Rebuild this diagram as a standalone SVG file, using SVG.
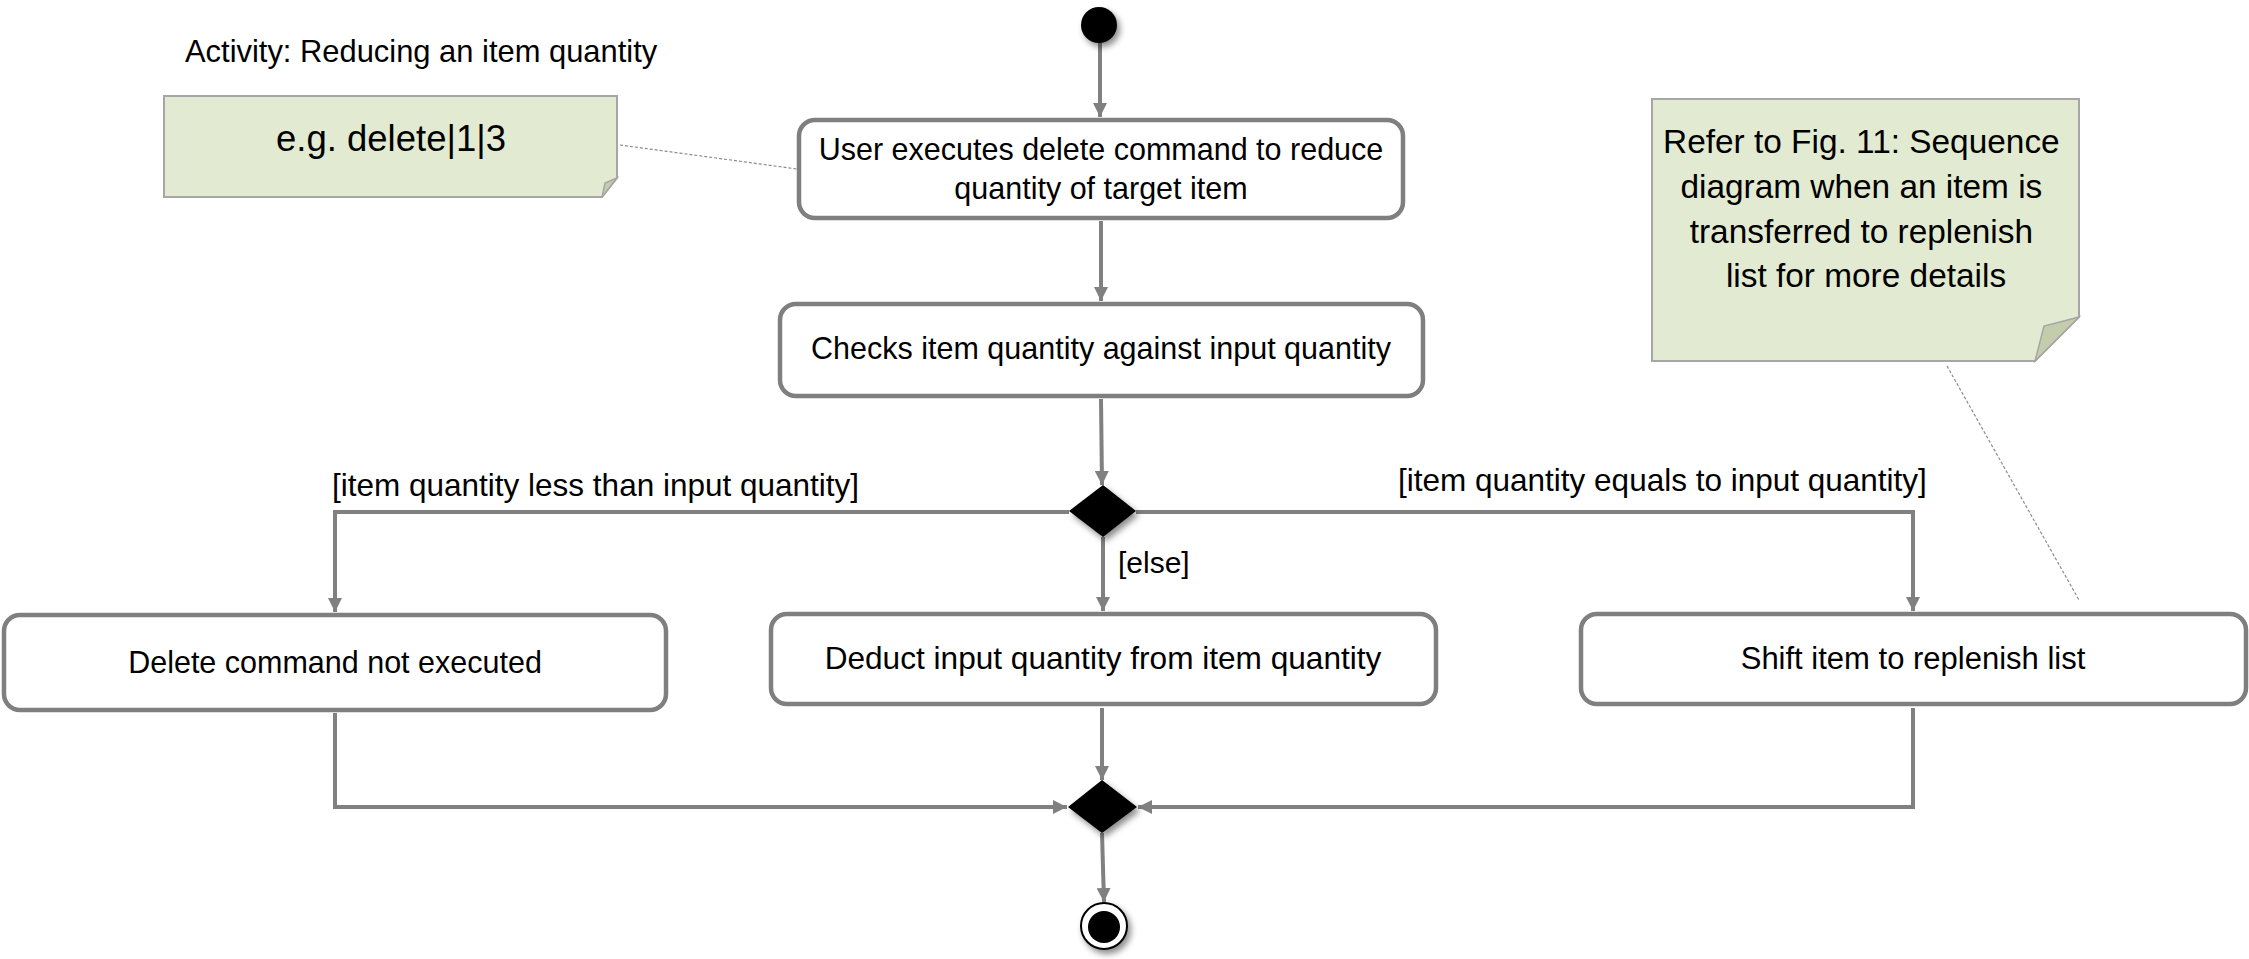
<svg xmlns="http://www.w3.org/2000/svg" width="2249" height="959" viewBox="0 0 2249 959">
  <defs>
    <style>
      .act { fill: #ffffff; stroke: #7f7f7f; stroke-width: 4.5; }
      .txt { font-family: "Liberation Sans", Arial, sans-serif; fill: #000000; }
      .box { font-size: 30.5px; text-anchor: middle; }
      .guard { font-size: 31.5px; }
      .note { fill: #e2ebd1; stroke: #a6a6a6; stroke-width: 2; }
      .fold { fill: #c3ccab; stroke: #a6a6a6; stroke-width: 1.5; }
      .flow { fill: none; stroke: #808080; stroke-width: 4; marker-end: url(#arrow); }
      .anchor { fill: none; stroke: #8c8c8c; stroke-width: 1.2; stroke-dasharray: 3 2; }
    </style>
    <marker id="arrow" markerUnits="userSpaceOnUse" markerWidth="14" markerHeight="14" viewBox="0 0 13 13" refX="13" refY="6.5" orient="auto">
      <path d="M0,0 L13,6.5 L0,13 z" fill="#808080"/>
    </marker>
    <filter id="shadow" x="-50%" y="-50%" width="200%" height="200%">
      <feDropShadow dx="3" dy="4" stdDeviation="3" flood-color="#000000" flood-opacity="0.45"/>
    </filter>
  </defs>

  <rect x="0" y="0" width="2249" height="959" fill="#ffffff"/>

  <g id="title">
    <text class="txt" x="185" y="62" font-size="30.9">Activity: Reducing an item quantity</text>
  </g>

  <g id="connectors">
    <line class="flow" x1="1100" y1="43" x2="1100" y2="117"/>
    <line class="flow" x1="1101" y1="221" x2="1101" y2="301"/>
    <line class="flow" x1="1101" y1="399" x2="1102" y2="485"/>
    <polyline class="flow" points="1069,512 335,512 335,612"/>
    <line class="flow" x1="1103" y1="537" x2="1103" y2="611"/>
    <polyline class="flow" points="1136,512 1913,512 1913,611"/>
    <polyline class="flow" points="335,713 335,807 1067,807"/>
    <line class="flow" x1="1102" y1="708" x2="1102" y2="780"/>
    <polyline class="flow" points="1913,708 1913,807 1138,807"/>
    <line class="flow" x1="1102" y1="833" x2="1104" y2="902"/>
    <line class="anchor" x1="620" y1="145" x2="797" y2="169"/>
    <line class="anchor" x1="1947" y1="366" x2="2079" y2="600"/>
  </g>

  <g id="start">
    <circle cx="1099" cy="25" r="18" fill="#000000" filter="url(#shadow)"/>
  </g>

  <g id="act-user">
    <rect class="act" x="799" y="120" width="604" height="98" rx="16"/>
    <text class="txt box" x="1101" y="160">User executes delete command to reduce</text>
    <text class="txt box" x="1101" y="199">quantity of target item</text>
  </g>

  <g id="act-check">
    <rect class="act" x="780" y="304" width="643" height="92" rx="16"/>
    <text class="txt box" x="1101" y="359">Checks item quantity against input quantity</text>
  </g>

  <g id="decision">
    <polygon points="1103,485 1136,511 1103,537 1069,511" fill="#000000" filter="url(#shadow)"/>
  </g>

  <g id="guards">
    <text class="txt guard" x="332" y="496">[item quantity less than input quantity]</text>
    <text class="txt guard" x="1398" y="491">[item quantity equals to input quantity]</text>
    <text class="txt" x="1118" y="573" font-size="30">[else]</text>
  </g>

  <g id="act-not-executed">
    <rect class="act" x="4" y="615" width="662" height="95" rx="16"/>
    <text class="txt box" x="335" y="673">Delete command not executed</text>
  </g>

  <g id="act-deduct">
    <rect class="act" x="771" y="614" width="665" height="90" rx="16"/>
    <text class="txt box" x="1103" y="669" style="font-size:31.6px">Deduct input quantity from item quantity</text>
  </g>

  <g id="act-shift">
    <rect class="act" x="1581" y="614" width="665" height="90" rx="16"/>
    <text class="txt box" x="1913" y="669" style="font-size:31px">Shift item to replenish list</text>
  </g>

  <g id="merge">
    <polygon points="1102,780 1137,807 1102,833 1068,807" fill="#000000" filter="url(#shadow)"/>
  </g>

  <g id="end">
    <circle cx="1104" cy="926" r="23" fill="#ffffff" stroke="#000000" stroke-width="2" filter="url(#shadow)"/>
    <circle cx="1104" cy="927" r="16" fill="#000000"/>
  </g>

  <g id="note-example">
    <polygon class="note" points="164,96 617,96 617,178 602,197 164,197"/>
    <polygon class="fold" points="617,178 605,183 602,197"/>
    <text class="txt" x="391" y="151" font-size="36.5" text-anchor="middle">e.g. delete|1|3</text>
  </g>

  <g id="note-reference">
    <polygon class="note" points="1652,99 2079,99 2079,317 2035,361 1652,361"/>
    <polygon class="fold" points="2079,317 2044,326 2035,361"/>
    <text class="txt" font-size="33.4" text-anchor="middle">
      <tspan x="1866" y="153">Refer to Fig. 11: Sequence</tspan>
      <tspan x="1866" y="198">diagram when an item is</tspan>
      <tspan x="1866" y="243">transferred to replenish</tspan>
      <tspan x="1866" y="287">list for more details</tspan>
    </text>
  </g>
</svg>
